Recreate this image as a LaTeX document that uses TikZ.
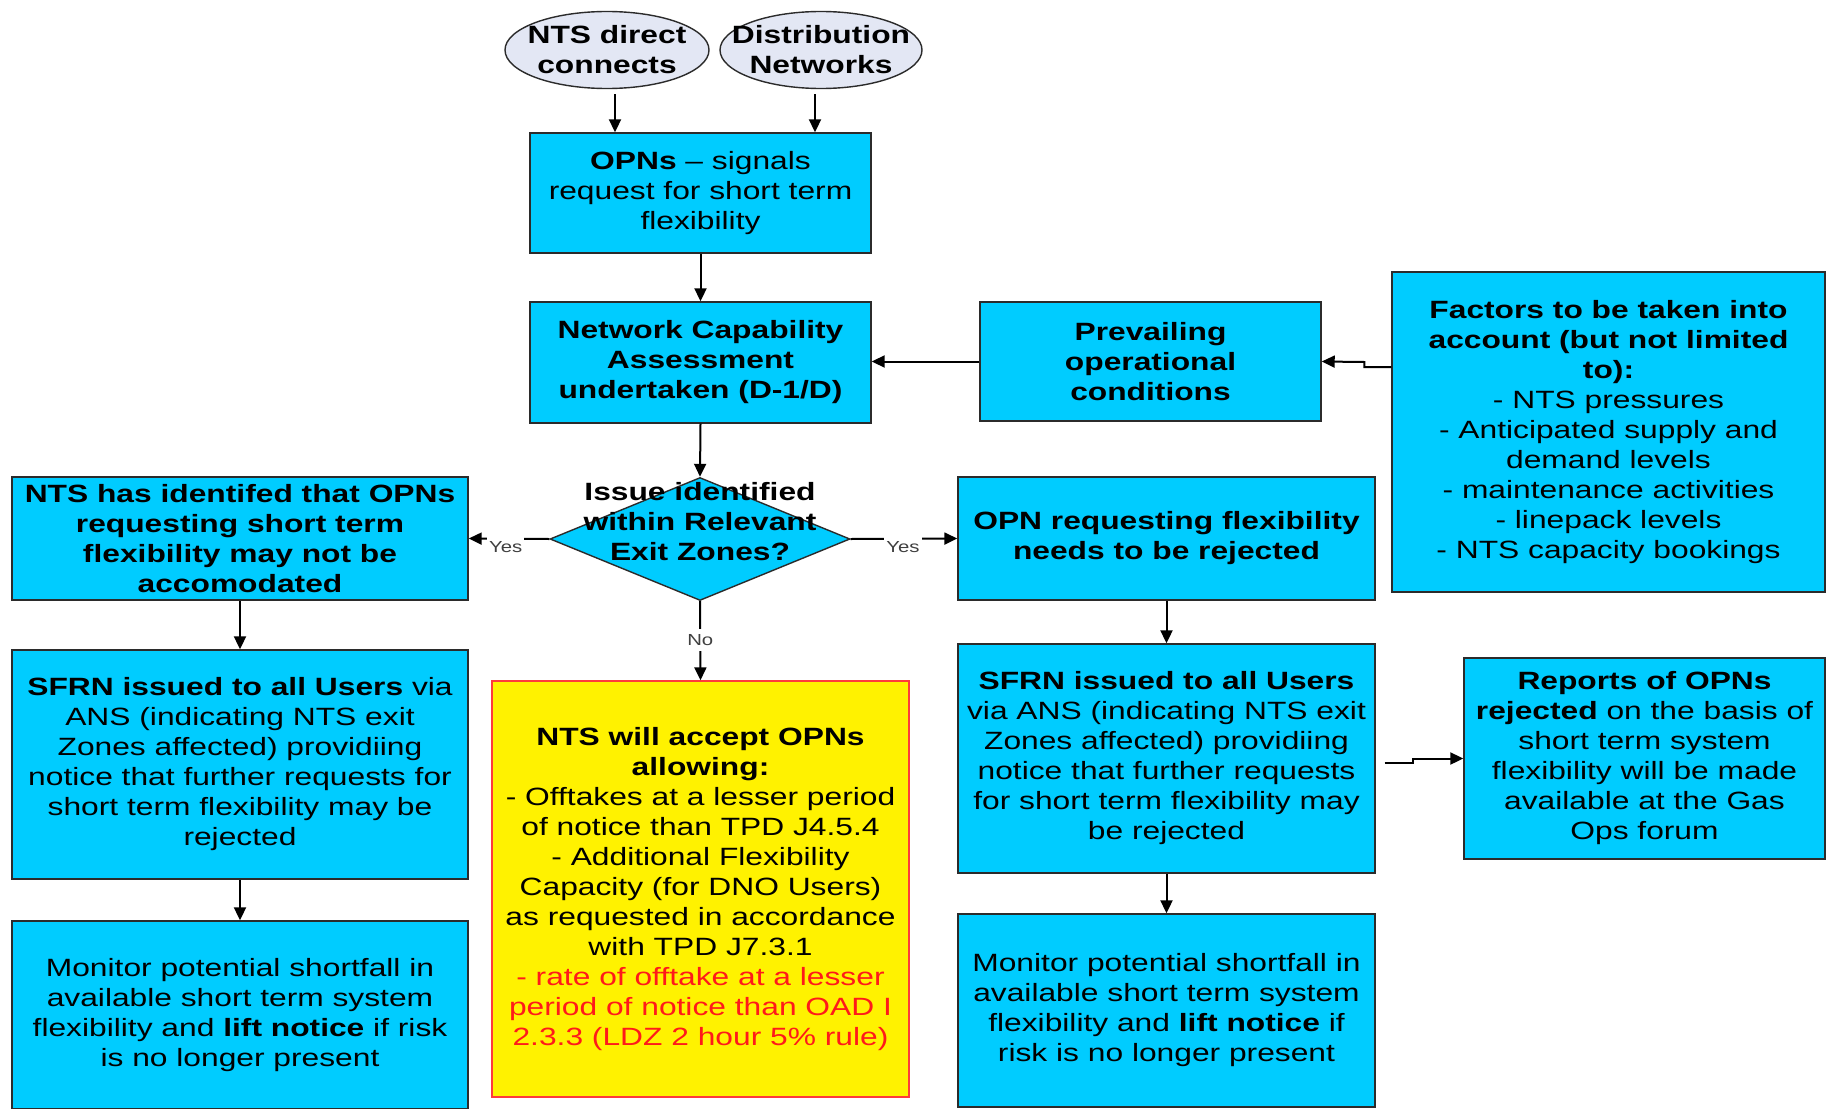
\documentclass[tikz,border=0pt]{standalone}
\usepackage{fontspec}
\setmainfont{Liberation Sans}[FakeStretch=1.27]
\usetikzlibrary{shapes.geometric,arrows.meta,calc}
\definecolor{boxcyan}{HTML}{00CCFF}
\definecolor{ovalfill}{HTML}{E3E7F4}
\definecolor{boxline}{HTML}{2B2B2B}
\definecolor{alertred}{HTML}{FF1A1A}
\definecolor{notered}{HTML}{FF3B3B}
\begin{document}
\begin{tikzpicture}[x=1pt,y=-1pt,
  font=\fontsize{25}{30}\selectfont,
  box/.style={draw=boxline, line width=1.4pt, fill=boxcyan, align=center, inner sep=0pt, anchor=center},
  boldtext/.style={font=\fontsize{25}{30}\selectfont\bfseries},
  oval/.style={ellipse, draw=boxline, line width=1.4pt, fill=ovalfill, inner sep=0pt},
  ovaltext/.style={align=center, inner sep=0pt, font=\fontsize{25}{30}\selectfont\bfseries},
  arr/.style={-{Triangle[length=13pt,width=12pt]}, line width=2pt, black},
  lbl/.style={font=\fontsize{16}{18}\selectfont, text=black!75, fill=white, inner xsep=2pt, inner ysep=5pt}
]
\fill[white] (0,0) rectangle (1833,1108);
\useasboundingbox (0,0) rectangle (1833,1108);

% top ovals
\node[oval, minimum width=204pt, minimum height=77pt] (e1) at (607,50) {};
\node[ovaltext] (e1t) at (e1.center) {NTS direct\\connects};
\node[oval, minimum width=202pt, minimum height=77pt] (e2) at (821,50) {};
\node[ovaltext] (e2t) at (e2.center) {Distribution\\Networks};

% central column
\node[box, minimum width=341pt, minimum height=120pt] (opns) at (700.5,193)
  {\textbf{OPNs} -- signals\\request for short term\\flexibility};
\node[box, boldtext, minimum width=341pt, minimum height=121pt] (nca) at (700.5,362.5)
  {Network Capability\\Assessment\\undertaken (D-1/D)};
\node[diamond, draw=boxline, line width=1.4pt, fill=boxcyan, minimum width=300pt, minimum height=123pt, inner sep=0pt] (dia) at (700,539) {};
\node[boldtext, align=center, inner sep=0pt] (dtext) at (700,522) {Issue identified\\within Relevant\\Exit Zones?};
\node[box, fill=yellow, draw=notered, minimum width=417pt, minimum height=416pt] (accept) at (700.5,889)
  {\textbf{NTS will accept OPNs}\\\textbf{allowing:}\\- Offtakes at a lesser period\\of notice than TPD J4.5.4\\- Additional Flexibility\\Capacity (for DNO Users)\\as requested in accordance\\with TPD J7.3.1\\\textcolor{alertred}{- rate of offtake at a lesser}\\\textcolor{alertred}{period of notice than OAD I}\\\textcolor{alertred}{2.3.3 (LDZ 2 hour 5\% rule)}};

% right upper
\node[box, boldtext, minimum width=341pt, minimum height=119pt] (prev) at (1150.5,361.5)
  {Prevailing\\operational\\conditions};
\node[box, minimum width=433pt, minimum height=320pt] (factors) at (1608.5,432)
  {\textbf{Factors to be taken into}\\\textbf{account (but not limited}\\\textbf{to):}\\- NTS pressures\\- Anticipated supply and\\demand levels\\- maintenance activities\\- linepack levels\\- NTS capacity bookings};

% left column
\node[box, boldtext, minimum width=456pt, minimum height=123pt] (left1) at (240,538.5)
  {NTS has identifed that OPNs\\requesting short term\\flexibility may not be\\accomodated};
\node[box, minimum width=456pt, minimum height=229pt] (sfrnL) at (240,764.5)
  {\textbf{SFRN issued to all Users} via\\ANS (indicating NTS exit\\Zones affected) providiing\\notice that further requests for\\short term flexibility may be\\rejected};
\node[box, minimum width=456pt, minimum height=188pt] (monL) at (240,1015)
  {Monitor potential shortfall in\\available short term system\\flexibility and \textbf{lift notice} if risk\\is no longer present};

% right column
\node[box, boldtext, minimum width=417pt, minimum height=123pt] (right1) at (1166.5,538.5)
  {OPN requesting flexibility\\needs to be rejected};
\node[box, minimum width=417pt, minimum height=229pt] (sfrnR) at (1166.5,758.5)
  {\textbf{SFRN issued to all Users}\\via ANS (indicating NTS exit\\Zones affected) providiing\\notice that further requests\\for short term flexibility may\\be rejected};
\node[box, minimum width=417pt, minimum height=193pt] (monR) at (1166.5,1010.5)
  {Monitor potential shortfall in\\available short term system\\flexibility and \textbf{lift notice} if\\risk is no longer present};
\node[box, minimum width=361pt, minimum height=201pt] (reports) at (1644.5,758.5)
  {\textbf{Reports of OPNs}\\\textbf{rejected} on the basis of\\short term system\\flexibility will be made\\available at the Gas\\Ops forum};

% connectors
\draw[arr] ([xshift=8pt,yshift=-5pt]e1.south) -- ([xshift=8pt]e1.south |- opns.north);
\draw[arr] ([xshift=-6pt,yshift=-5pt]e2.south) -- ([xshift=-6pt]e2.south |- opns.north);
\draw[arr] (opns.south) -- (nca.north);
\draw[arr] (prev.west) -- (prev.west -| nca.east);
\draw[arr] ([yshift=65pt]factors.west) -- ++(-27,0) -- ++(0,-5) -- (prev.east);
\draw[arr] (nca.south) -- (dia.north);
\draw[arr] (dia.west) -- node[lbl, pos=0.54, yshift=-8pt] {Yes} (left1.east);
\draw[arr] (dia.east) -- node[lbl, pos=0.49, yshift=-8pt] {Yes} (right1.west);
\draw[arr] (dia.south) -- node[lbl, pos=0.49] {No} (accept.north);
\draw[arr] (left1.south) -- (sfrnL.north);
\draw[arr] (sfrnL.south) -- (monL.north);
\draw[arr] (right1.south) -- (sfrnR.north);
\draw[arr] (sfrnR.south) -- (monR.north);
\draw[arr] ([xshift=9pt,yshift=-4.5pt]sfrnR.east) -- ++(28,0) -- ++(0,-4.5) -- (reports.west);
\end{tikzpicture}
\end{document}
